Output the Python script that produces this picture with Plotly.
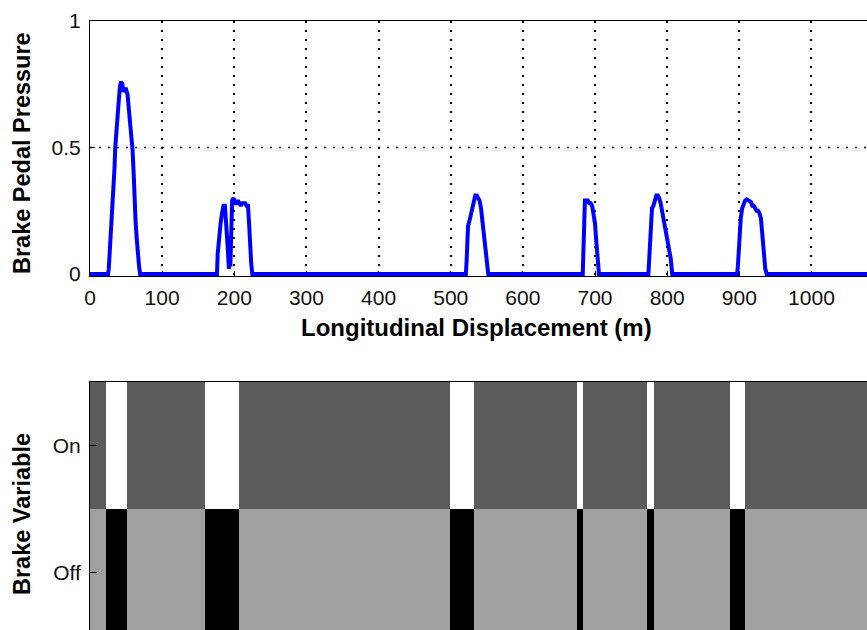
import plotly.graph_objects as go

# Brake pedal pressure sampled along the run (displacement in metres, normalised pressure)
displacement_m = [
    0, 25, 26, 27, 28, 29, 31, 32, 33, 34, 35, 36, 37.5, 39, 40, 41.5, 43, 45, 46, 48, 50, 52,
    53.5, 55, 56.5, 58, 59, 60.5, 61.5, 63, 64.5, 66, 68, 69.5,
    176, 177, 179, 181, 183, 185, 187, 189, 191, 192.5, 193.5, 194.5, 195.5, 197, 199, 201,
    203, 205, 207, 209, 211, 213, 215, 217, 219, 220.5, 222, 223.5, 225,
    521, 522, 523, 524, 526, 528, 530, 532, 534, 536, 538, 540, 542, 544, 546, 548, 550, 552,
    683, 684, 685, 686, 688, 690, 692, 694, 696, 698, 700, 702, 704, 705.5,
    774, 775, 776, 777, 779, 781, 783, 785, 787, 789, 791, 793, 795, 797, 799, 801, 803, 805, 807,
    897, 898, 899, 900, 902, 904, 906, 908, 910, 912, 914, 916, 918, 920, 922, 924, 926, 928,
    930, 932, 934, 936, 938,
    1100,
]
pedal_pressure = [
    0, 0, 0.02, 0.07, 0.1, 0.16, 0.22, 0.28, 0.37, 0.42, 0.5, 0.55, 0.63, 0.67, 0.69, 0.74, 0.76,
    0.75, 0.72, 0.73, 0.73, 0.71, 0.67, 0.63, 0.58, 0.52, 0.49, 0.4, 0.3, 0.22, 0.15, 0.07, 0.03, 0,
    0, 0.08, 0.17, 0.2, 0.24, 0.27, 0.27, 0.2, 0.1, 0.02, 0.15, 0.03, 0.2, 0.29, 0.3, 0.28,
    0.28, 0.29, 0.28, 0.27, 0.28, 0.28, 0.28, 0.27, 0.27, 0.2, 0.1, 0.04, 0,
    0, 0.05, 0.15, 0.19, 0.21, 0.24, 0.25, 0.28, 0.31, 0.31, 0.3, 0.29, 0.26, 0.2, 0.14, 0.08, 0.03, 0,
    0, 0.1, 0.25, 0.29, 0.29, 0.29, 0.28, 0.28, 0.27, 0.24, 0.2, 0.12, 0.05, 0,
    0, 0.05, 0.15, 0.22, 0.26, 0.27, 0.29, 0.31, 0.31, 0.3, 0.28, 0.25, 0.22, 0.18, 0.17, 0.13,
    0.1, 0.06, 0,
    0, 0.03, 0.1, 0.16, 0.22, 0.26, 0.28, 0.29, 0.295, 0.29, 0.29, 0.285, 0.27, 0.27, 0.26, 0.25,
    0.25, 0.24, 0.22, 0.15, 0.08, 0.02, 0,
    0,
]

x_ticks = [0, 100, 200, 300, 400, 500, 600, 700, 800, 900, 1000]
pressure_ticks = [0, 0.5, 1]
pressure_tick_labels = ["0", "0.5", "1"]
pressure_grid = [0.5]

# Intervals in which the binary brake variable is set (start, end)
brake_on_start = [22.2, 159.8, 498.8, 675.2, 771.4, 886.8]
brake_on_end = [51.3, 206.9, 532.1, 683.5, 781.1, 908.5]
state_labels = ["On", "Off"]

X_MAX = 1077
FONT = "Liberation Sans, Arial, sans-serif"
W, H = 867, 630


def px_x(p):
    return p / W


def px_y(p):
    return 1 - p / H


# Build the two-row state image: top row "On", bottom row "Off"
edges = [0]
on_row, off_row = [], []
for s, e in zip(brake_on_start, brake_on_end):
    edges += [s, e]
    on_row += [92 / 255, 1.0]
    off_row += [160 / 255, 0.0]
edges.append(X_MAX)
on_row.append(92 / 255)
off_row.append(160 / 255)

fig = go.Figure()

fig.add_trace(go.Scatter(
    x=displacement_m, y=pedal_pressure, mode="lines",
    line=dict(color="#0000ff", width=4),
    xaxis="x", yaxis="y", showlegend=False, hoverinfo="skip",
))

fig.add_trace(go.Heatmap(
    x=edges, y=[1, 2], z=[on_row, off_row],
    colorscale=[[0, "#000000"], [1, "#ffffff"]], zmin=0, zmax=1,
    showscale=False, xaxis="x2", yaxis="y2", hoverinfo="skip",
))

tick_font = dict(family=FONT, size=21, color="#111111")
title_font = dict(family=FONT, size=23.5, color="#000000")
grid_dash = "2px,7px"

# Horizontal dotted grid (only the interior level; 0 is hidden by the signal baseline)
grid_shapes = [
    dict(type="line", xref="x domain", yref="y", x0=0, x1=1, y0=g, y1=g,
         line=dict(color="#000000", width=1.5, dash=grid_dash), layer="below")
    for g in pressure_grid
]

fig.update_layout(
    width=W, height=H,
    margin=dict(l=0, r=0, t=0, b=0, autoexpand=False),
    paper_bgcolor="white", plot_bgcolor="white",
    shapes=grid_shapes,
    xaxis=dict(
        domain=[px_x(90), 1.0], range=[0, X_MAX], automargin=False,
        tickmode="array", tickvals=x_ticks, ticktext=[str(v) for v in x_ticks],
        ticks="inside", ticklen=5, tickcolor="#000000",
        showline=True, linecolor="#000000", linewidth=1, mirror=True,
        showgrid=True, gridcolor="#000000", griddash=grid_dash, gridwidth=1.5,
        zeroline=False, tickfont=tick_font, layer="below traces",
        ticklabelstandoff=3,
    ),
    yaxis=dict(
        domain=[px_y(276), px_y(21)], range=[-0.008, 1], anchor="x", automargin=False,
        tickmode="array", tickvals=pressure_ticks, ticktext=pressure_tick_labels,
        ticks="inside", ticklen=5, tickcolor="#000000",
        showline=True, linecolor="#000000", linewidth=1,
        showgrid=False, zeroline=False, tickfont=tick_font, layer="below traces",
        ticklabelstandoff=4,
    ),
    xaxis2=dict(
        domain=[px_x(90), 1.0], range=[0, X_MAX], anchor="y2", side="top",
        automargin=False,
        showticklabels=False, ticks="", showgrid=False, zeroline=False,
        showline=True, linecolor="#000000", linewidth=1,
    ),
    yaxis2=dict(
        domain=[0, px_y(382)], range=[2.453, 0.5], anchor="x2", automargin=False,
        tickmode="array", tickvals=[1, 2], ticktext=state_labels,
        ticks="inside", ticklen=7, tickcolor="#000000",
        showline=True, linecolor="#000000", linewidth=1,
        showgrid=False, zeroline=False, tickfont=tick_font,
        ticklabelstandoff=4,
    ),
    annotations=[
        dict(text="<b>Longitudinal Displacement (m)</b>", x=px_x(476), y=px_y(327),
             xref="paper", yref="paper", xanchor="center", yanchor="middle",
             showarrow=False, font=dict(family=FONT, size=24, color="#000000")),
        dict(text="<b>Brake Pedal Pressure</b>", x=px_x(22), y=px_y(153),
             xref="paper", yref="paper", xanchor="center", yanchor="middle",
             textangle=-90, showarrow=False, font=title_font),
        dict(text="<b>Brake Variable</b>", x=px_x(22), y=px_y(514),
             xref="paper", yref="paper", xanchor="center", yanchor="middle",
             textangle=-90, showarrow=False, font=title_font),
    ],
)

fig.write_html("out.html")
